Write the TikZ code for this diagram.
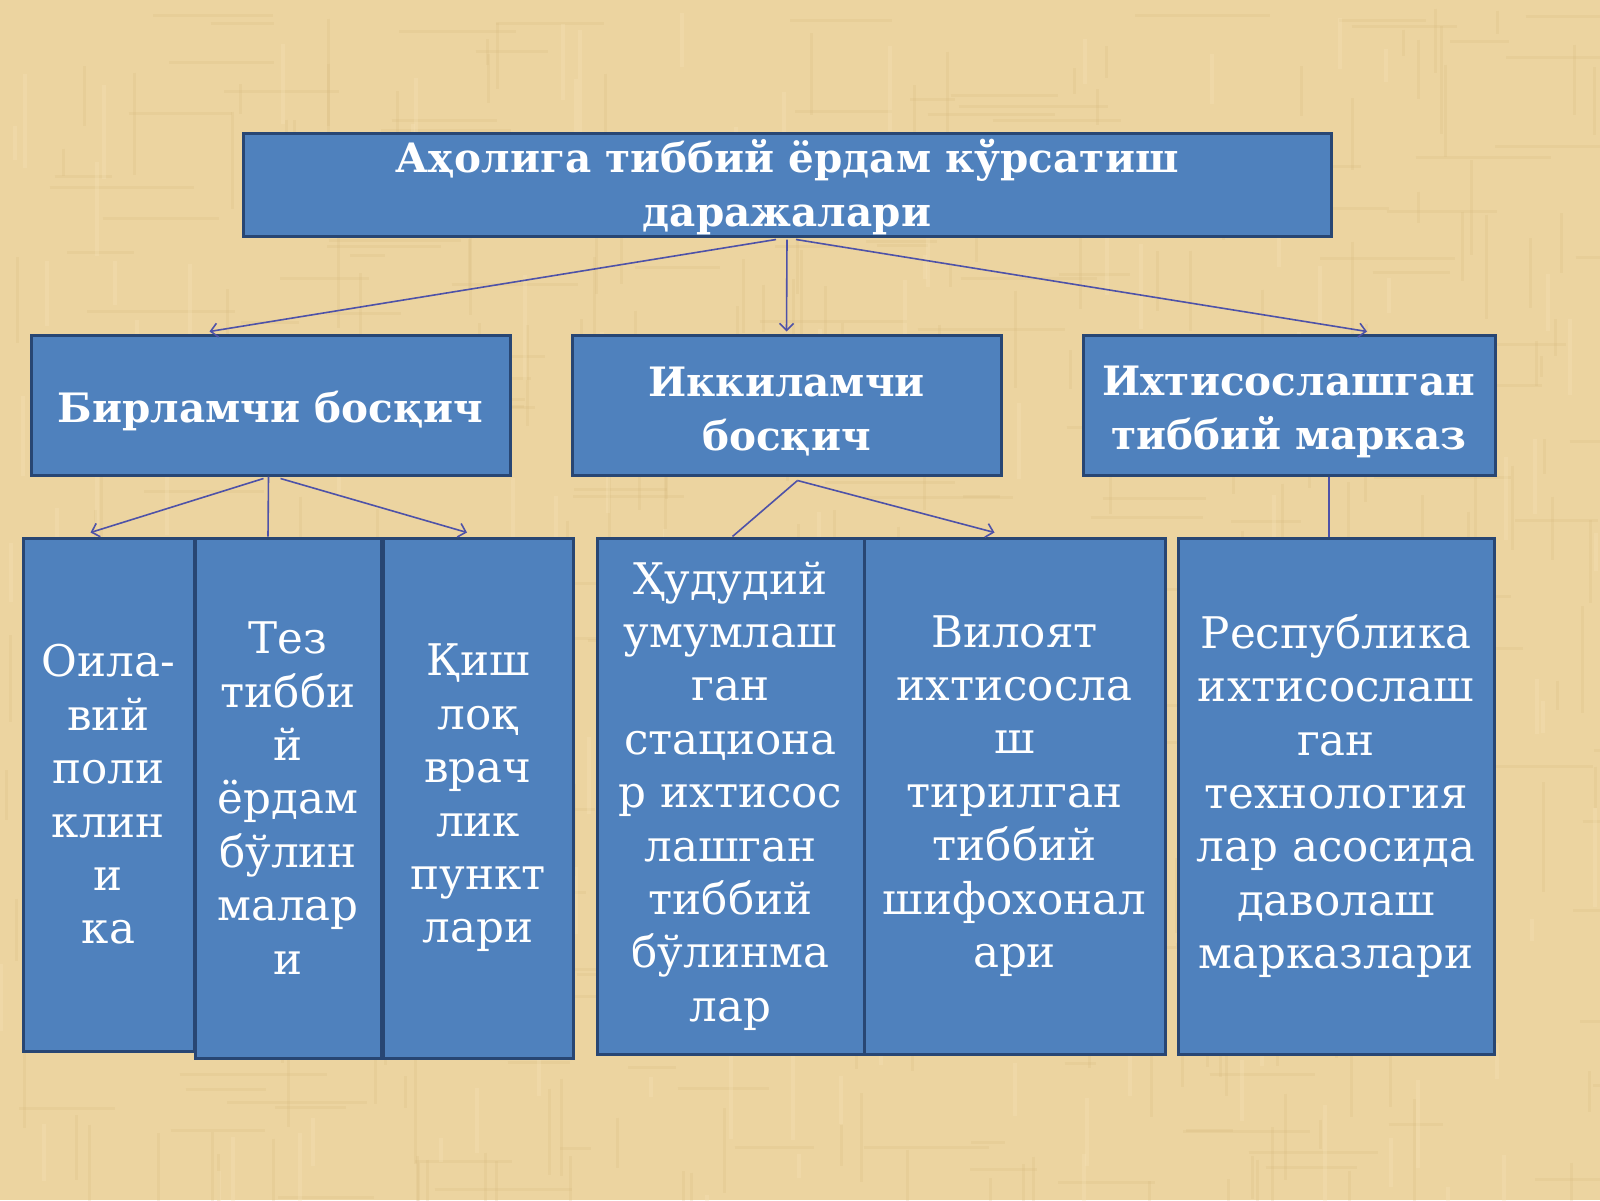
\documentclass[tikz,border=0pt]{standalone}
\usepackage{fontspec}
\setmainfont{DejaVu Serif}
\usetikzlibrary{arrows.meta,calc}
\definecolor{bg}{RGB}{236,212,160}
\definecolor{bgdark}{RGB}{212,180,120}
\definecolor{bglight}{RGB}{246,228,184}
\definecolor{boxfill}{RGB}{79,129,189}
\definecolor{boxedge}{RGB}{40,70,115}
\definecolor{conn}{RGB}{78,82,168}
\newcommand{\hstrut}{\rule{0pt}{43pt}}
\tikzset{
  box/.style={draw=boxedge, line width=3pt, fill=boxfill, text=white, align=center, inner sep=0pt},
  headbox/.style={box, font=\bfseries\fontsize{40.5}{54}\selectfont},
  headtext/.style={text=white, align=center, inner sep=0pt, font=\bfseries\fontsize{40.5}{54}\selectfont},
  colbox/.style={box, font=\fontsize{43.6}{53.4}\selectfont},
  conline/.style={draw=conn, line width=1.6pt},
  conarrow/.style={conline, -{Straight Barb[length=7pt,width=14pt,line width=1.6pt]}},
  texv/.style={draw=bgdark, line width=3pt, opacity=0.18},
  texl/.style={draw=bglight, line width=4pt, opacity=0.3}
}
\begin{document}
\begin{tikzpicture}[x=1pt,y=-1pt]
\useasboundingbox (0,0) rectangle (1600,1200);
\fill[bg] (0,0) rectangle (1600,1200);
\pgfmathsetseed{12}
\foreach \i in {1,...,260}{
  \pgfmathsetmacro\xx{rnd*1600}
  \pgfmathsetmacro\yy{rnd*1200}
  \pgfmathsetmacro\ll{20+rnd*90}
  \draw[texv] (\xx,\yy) -- ++(0,\ll);
}
\foreach \i in {1,...,200}{
  \pgfmathsetmacro\xx{rnd*1600}
  \pgfmathsetmacro\yy{rnd*1200}
  \pgfmathsetmacro\ll{30+rnd*120}
  \draw[texv] (\xx,\yy) -- ++(\ll,0);
}
\foreach \i in {1,...,160}{
  \pgfmathsetmacro\xx{rnd*1600}
  \pgfmathsetmacro\yy{rnd*1200}
  \pgfmathsetmacro\ll{20+rnd*90}
  \draw[texl] (\xx,\yy) -- ++(0,\ll);
}

% top
\node[box, minimum width=1088pt, minimum height=103pt] (top) at (787,184.5) {};
\node[headtext, yshift=-3pt] (toptext) at (top.center)
  {Аҳолига тиббий ёрдам кўрсатиш\\даражалари};

% level 2
\node[headbox, minimum width=479pt, minimum height=140pt] (b1) at (270.5,405) {\hstrut Бирламчи босқич};
\node[headbox, minimum width=429pt, minimum height=140pt] (b2) at (786.5,405) {\hstrut Иккиламчи\\босқич};
\node[headbox, minimum width=412pt, minimum height=140pt] (b3) at (1289,405) {\hstrut Ихтисослашган\\тиббий марказ};

% level 3
\node[colbox, minimum width=171pt, minimum height=513pt] (c1) at (108.5,794.5)
  {Оила-\\вий\\поли\\клин\\и\\ка};
\node[colbox, minimum width=186pt, minimum height=520pt] (c2) at (288,798)
  {Тез\\тибби\\й\\ёрдам\\бўлин\\малар\\и};
\node[colbox, minimum width=190pt, minimum height=520pt] (c3) at (478,798)
  {Қиш\\лоқ\\врач\\лик\\пункт\\лари};
\node[colbox, minimum width=267pt, minimum height=516pt] (c4) at (730.5,796)
  {Ҳудудий\\умумлаш\\ган\\стациона\\р ихтисос\\лашган\\тиббий\\бўлинма\\лар};
\node[colbox, minimum width=301pt, minimum height=516pt] (c5) at (1014.5,796)
  {Вилоят\\ихтисосла\\ш\\тирилган\\тиббий\\шифохонал\\ари};
\node[colbox, minimum width=316pt, minimum height=516pt] (c6) at (1336,796)
  {Республика\\ихтисослаш\\ган\\технология\\лар асосида\\даволаш\\марказлари};

% connectors
\draw[conarrow] ([xshift=-11pt,yshift=-2pt]top.south) -- ([xshift=-61pt,yshift=2pt]b1.north);
\draw[conarrow] ([yshift=-2pt]top.south) -- ([yshift=2pt]b2.north);
\draw[conarrow] ([xshift=9pt,yshift=-2pt]top.south) -- ([xshift=78pt,yshift=2pt]b3.north);

\draw[conarrow] ([xshift=-7pt,yshift=-2pt]b1.south) -- ([xshift=-18pt,yshift=4pt]c1.north);
\draw[conline] ([xshift=-2pt]b1.south) -- ([xshift=-20pt]c2.north);
\draw[conarrow] ([xshift=10pt,yshift=-2pt]b1.south) -- ([xshift=-11pt,yshift=4pt]c3.north);

\draw[conline] ([xshift=11pt,yshift=-4pt]b2.south) -- ([xshift=2pt]c4.north);
\draw[conarrow] ([xshift=11pt,yshift=-4pt]b2.south) -- ([xshift=-20pt,yshift=4pt]c5.north);

\draw[conline] ([xshift=40pt]b3.south) -- ([xshift=-7pt]c6.north);
\end{tikzpicture}
\end{document}
